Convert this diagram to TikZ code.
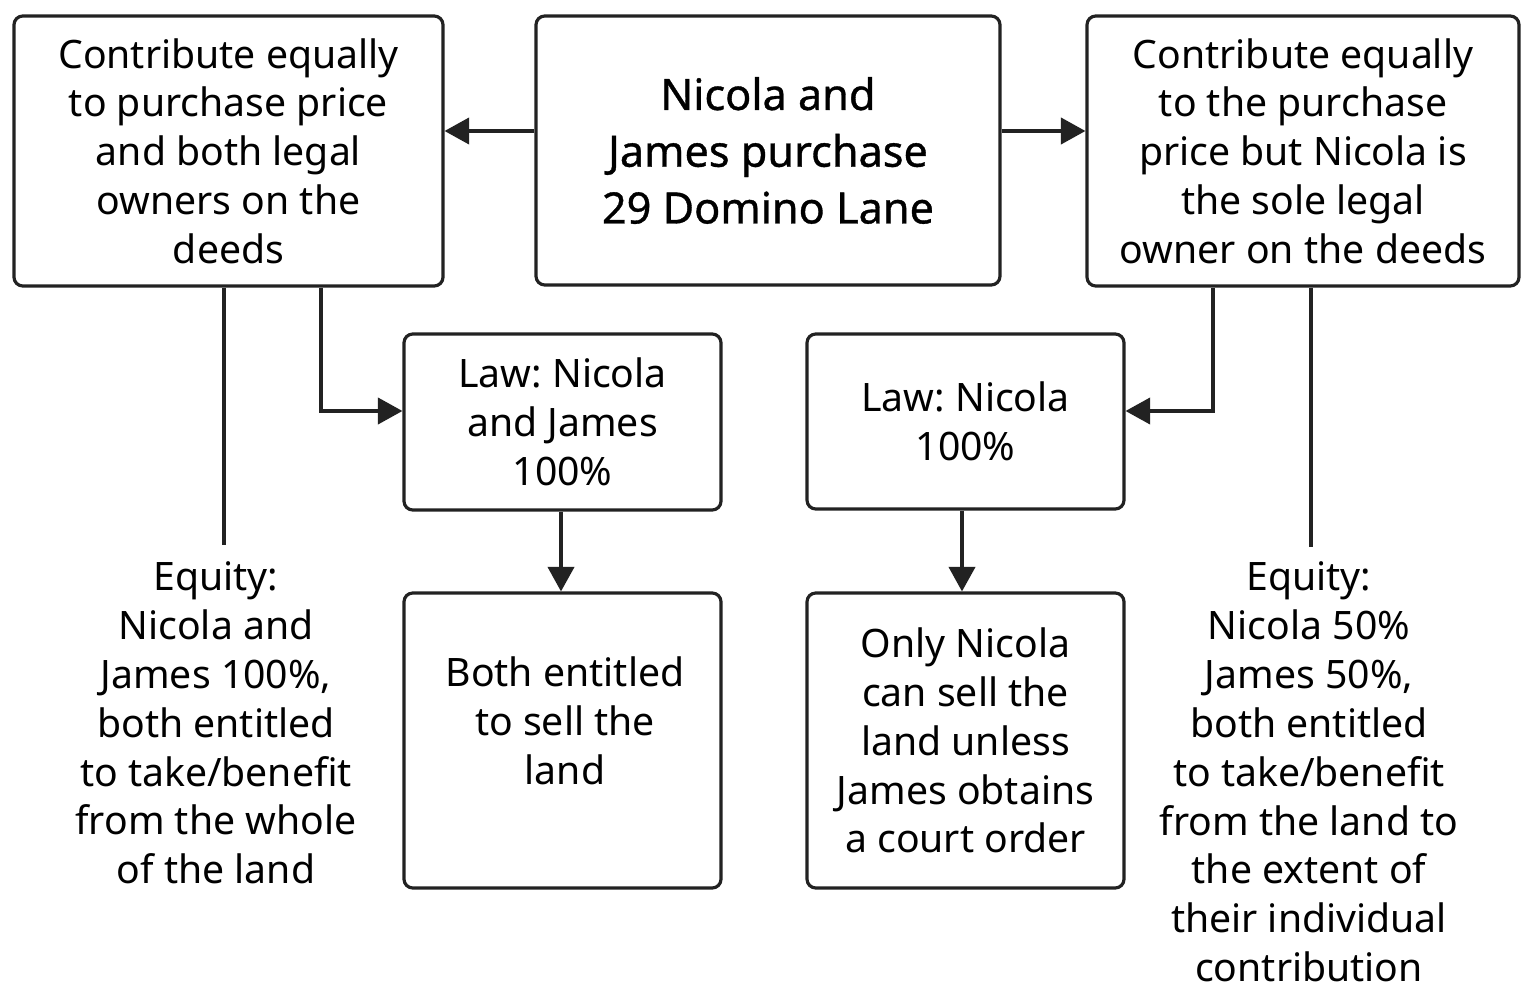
\documentclass[tikz,border=0pt]{standalone}
\usepackage{fontspec}
\setmainfont{Noto Sans}
\newfontfamily\titlefont[FakeBold=0.8]{Noto Sans}
\usetikzlibrary{arrows.meta}
\usetikzlibrary{calc}
\frenchspacing

\definecolor{inkgray}{HTML}{222222}

\begin{document}
\begin{tikzpicture}[x=0.02cm, y=-0.02cm,
    box/.style={draw=inkgray, line width=1.8pt, rounded corners=5pt, align=center, inner sep=0pt,
      font=\fontsize{22.3}{27.8}\selectfont},
    txt/.style={align=center, inner sep=0pt, font=\fontsize{22.3}{27.8}\selectfont},
    link/.style={draw=inkgray, line width=1.8pt},
    arr/.style={link, -{Triangle[length=14pt, width=15pt]}}]
      \useasboundingbox (0,0) rectangle (1536,997);

      % top row
      \node[box, minimum width=464*0.02cm, minimum height=269*0.02cm,
        font=\titlefont\fontsize{24.6}{32.3}\selectfont] (buy) at (768,150.5)
        {Nicola and\\James purchase\\29 Domino Lane};
      \node[box, minimum width=429*0.02cm, minimum height=270*0.02cm] (joint) at (228.5,151)
        {Contribute equally\\to purchase price\\and both legal\\owners on the\\deeds};
      \node[box, minimum width=432*0.02cm, minimum height=270*0.02cm] (sole) at (1303,151)
        {Contribute equally\\to the purchase\\price but Nicola is\\the sole legal\\owner on the deeds};

      % law boxes
      \node[box, minimum width=317*0.02cm, minimum height=176*0.02cm] (lawjoint) at (562.5,422)
        {Law: Nicola\\and James\\100\%};
      \node[box, minimum width=317*0.02cm, minimum height=175*0.02cm] (lawsole) at (965.5,421.5)
        {Law: Nicola\\100\%};

      % outcome boxes
      \node[box, minimum width=317*0.02cm, minimum height=295*0.02cm] (sellboth) at (562.5,740.5) {};
      \node[txt] (sellbothtxt) at (565,721) {Both entitled\\to sell the\\land};
      \node[box, minimum width=317*0.02cm, minimum height=295*0.02cm] (sellsole) at (965.5,740.5)
        {Only Nicola\\can sell the\\land unless\\James obtains\\a court order};

      % equity texts
      \node[txt] (eqjoint) at (216,723)
        {Equity:\\Nicola and\\James 100\%,\\both entitled\\to take/benefit\\from the whole\\of the land};
      \node[txt] (eqsole) at (1309,772)
        {Equity:\\Nicola 50\%\\James 50\%,\\both entitled\\to take/benefit\\from the land to\\the extent of\\their individual\\contribution};

      \draw[arr] (buy.west |- 0,131) -- (joint.east |- 0,131);
      \draw[arr] (buy.east |- 0,131) -- (sole.west |- 0,131);
      \draw[link] (joint.south -| 224,0) -- (224,545);
      \draw[arr] (joint.south -| 321,0) |- (lawjoint.west |- 0,411);
      \draw[arr] (sole.south -| 1213,0) |- (lawsole.east |- 0,411);
      \draw[link] (sole.south -| 1311,0) -- (1311,547);
      \draw[arr] (lawjoint.south -| 561,0) -- (sellboth.north -| 561,0);
      \draw[arr] (lawsole.south -| 962,0) -- (sellsole.north -| 962,0);
\end{tikzpicture}
\end{document}
